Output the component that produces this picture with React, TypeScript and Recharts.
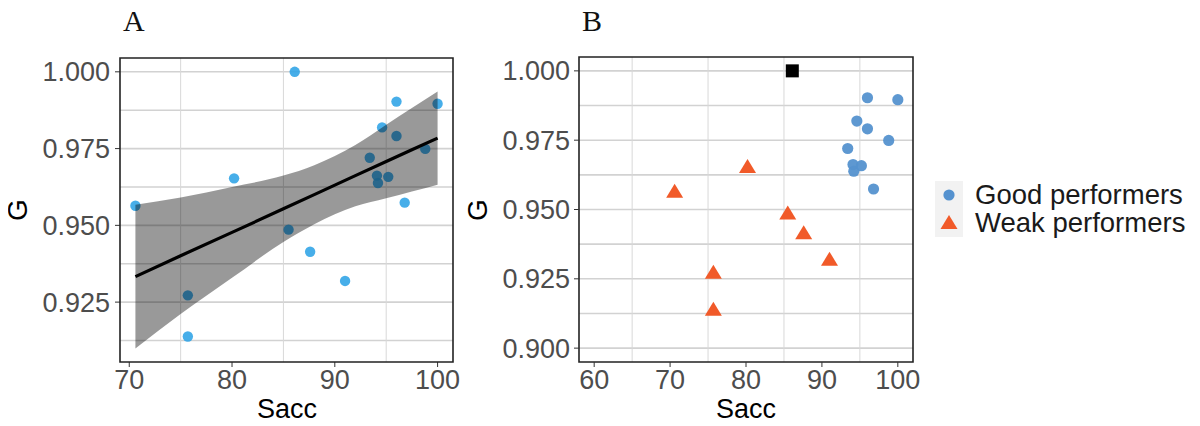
import {
  ComposedChart,
  ScatterChart,
  Scatter,
  Area,
  Line,
  XAxis,
  YAxis,
  CartesianGrid,
  ReferenceArea,
} from "recharts";

// good performers
const goodSacc = [93.4, 94.1, 94.2, 95.2, 94.6, 96.0, 96.0, 96.8, 98.8, 100.0];
const goodG = [0.972, 0.9662, 0.9638, 0.9658, 0.9819, 0.9903, 0.9791, 0.9574, 0.9749, 0.9896];

// weak performers
const weakSacc = [70.6, 75.7, 75.7, 80.2, 85.5, 87.6, 91.0];
const weakG = [0.9564, 0.9272, 0.9138, 0.9653, 0.9486, 0.9414, 0.9319];

// the one at the top
const topSacc = [86.1];
const topG = [1.0];

// fitted line and its band
const bandSacc = [70.6, 75, 80, 85, 88, 90, 92, 95, 97.5, 100];
const bandLow = [0.9099, 0.9211, 0.9329, 0.9446, 0.9504, 0.9536, 0.9562, 0.9588, 0.961, 0.9632];
const bandHigh = [0.9567, 0.9591, 0.9625, 0.9662, 0.9696, 0.9726, 0.9762, 0.9828, 0.9882, 0.9936];
const fitG = [0.9333, 0.9401, 0.9477, 0.9554, 0.96, 0.9631, 0.9662, 0.9708, 0.9746, 0.9784];

const xTicksA = [70, 80, 90, 100];
const yTicksA = [0.925, 0.95, 0.975, 1.0];
const hGridA = [0.9125, 0.925, 0.9375, 0.95, 0.9625, 0.975, 0.9875, 1.0];
const vGridA = [75, 85, 95];

const xTicksB = [60, 70, 80, 90, 100];
const yTicksB = [0.9, 0.925, 0.95, 0.975, 1.0];
const hGridB = [0.9, 0.9125, 0.925, 0.9375, 0.95, 0.9625, 0.975, 0.9875, 1.0];
const vGridB = [65, 75, 85, 95];

const toPts = (xs: number[], ys: number[]) => xs.map((x, i) => ({ x, y: ys[i] }));

const goodPts = toPts(goodSacc, goodG);
const weakPts = toPts(weakSacc, weakG);
const topPts = toPts(topSacc, topG);
const allPts = [...goodPts, ...weakPts, ...topPts];

const bandData = bandSacc.map((x, i) => ({
  x,
  band: [bandLow[i], bandHigh[i]],
  fit: fitG[i],
}));

const xDomA: [number, number] = [69.1, 101.5];
const yDomA: [number, number] = [0.9055, 1.0045];
const xDomB: [number, number] = [58, 102];
const yDomB: [number, number] = [0.895, 1.005];

const FONT = "'Liberation Sans', Arial, sans-serif";
const tickStyle = { fontSize: 27, fill: "#4d4d4d", fontFamily: FONT };

const dotA = (p: any) => (
  <circle cx={p.cx} cy={p.cy} r={5.2} fill="#2ea3e6" fillOpacity={0.88} />
);
const dotGood = (p: any) => (
  <circle cx={p.cx} cy={p.cy} r={5.6} fill="#5592cf" fillOpacity={0.95} />
);
const triWeak = (p: any) => (
  <polygon
    points={`${p.cx},${p.cy - 8} ${p.cx - 8.5},${p.cy + 6} ${p.cx + 8.5},${p.cy + 6}`}
    fill="#f15a29"
  />
);
const sqTop = (p: any) => (
  <rect x={p.cx - 6.5} y={p.cy - 6.5} width={13} height={13} fill="#000" />
);

const fmt = (v: number) => v.toFixed(3);

function Title({ text, left, top }: { text: string; left: number; top: number }) {
  return (
    <div
      style={{
        position: "absolute",
        left,
        top,
        fontFamily: "'Liberation Serif', 'Times New Roman', serif",
        fontSize: 30,
        lineHeight: 1,
        color: "#111",
      }}
    >
      {text}
    </div>
  );
}

function AxisTitles({ cx, cy, gx }: { cx: number; cy: number; gx: number }) {
  return (
    <>
      <div
        style={{
          position: "absolute",
          left: cx,
          top: 396,
          transform: "translateX(-50%)",
          fontFamily: FONT,
          fontSize: 27,
          lineHeight: 1,
          color: "#000",
        }}
      >
        Sacc
      </div>
      <div
        style={{
          position: "absolute",
          left: gx,
          top: cy,
          transform: "translate(-50%, -50%) rotate(-90deg)",
          fontFamily: FONT,
          fontSize: 28,
          lineHeight: 1,
          color: "#000",
        }}
      >
        G
      </div>
    </>
  );
}

export default function App() {
  return (
    <div
      style={{
        position: "relative",
        width: 1200,
        height: 426,
        margin: "-8px 0 0 -8px",
        background: "#fff",
        overflow: "hidden",
      }}
    >
      <Title text="A" left={123} top={6} />
      <Title text="B" left={582} top={6} />

      {/* panel A */}
      <div style={{ position: "absolute", left: 0, top: 0 }}>
        <ComposedChart
          width={470}
          height={426}
          data={bandData}
          margin={{ top: 58, right: 17, bottom: 0, left: 0 }}
        >
          <CartesianGrid
            vertical={false}
            horizontalValues={hGridA}
            stroke="#d2d2d2"
            strokeWidth={1.6}
          />
          <CartesianGrid
            horizontal={false}
            verticalValues={vGridA}
            stroke="#d8d8d8"
            strokeWidth={1}
          />
          <XAxis
            type="number"
            dataKey="x"
            domain={xDomA}
            allowDataOverflow
            ticks={xTicksA}
            interval={0}
            height={64}
            axisLine={false}
            tickSize={5}
            tickMargin={3}
            tickLine={{ stroke: "#333" }}
            tick={tickStyle}
          />
          <YAxis
            type="number"
            domain={yDomA}
            allowDataOverflow
            ticks={yTicksA}
            interval={0}
            width={120}
            axisLine={false}
            tickSize={5}
            tickMargin={5}
            tickLine={{ stroke: "#333" }}
            tick={tickStyle}
            tickFormatter={fmt}
          />
          <Scatter
            data={allPts}
            dataKey="y"
            shape={dotA}
            isAnimationActive={false}
            zIndex={100}
          />
          <Area
            type="monotone"
            dataKey="band"
            stroke="none"
            fill="#000"
            fillOpacity={0.4}
            isAnimationActive={false}
            zIndex={200}
          />
          <Line
            type="linear"
            dataKey="fit"
            stroke="#000"
            strokeWidth={3.2}
            dot={false}
            isAnimationActive={false}
            zIndex={300}
          />
          <ReferenceArea
            x1={xDomA[0]}
            x2={xDomA[1]}
            y1={yDomA[0]}
            y2={yDomA[1]}
            fill="none"
            stroke="#222"
            strokeWidth={1.6}
            zIndex={1000}
          />
        </ComposedChart>
      </div>
      <AxisTitles cx={287} cy={210} gx={18} />

      {/* panel B */}
      <div style={{ position: "absolute", left: 460, top: 0 }}>
        <ScatterChart
          width={470}
          height={426}
          margin={{ top: 57, right: 17, bottom: 0, left: 0 }}
        >
          <CartesianGrid
            vertical={false}
            horizontalValues={hGridB}
            stroke="#d2d2d2"
            strokeWidth={1.6}
          />
          <CartesianGrid
            horizontal={false}
            verticalValues={vGridB}
            stroke="#d8d8d8"
            strokeWidth={1}
          />
          <XAxis
            type="number"
            dataKey="x"
            domain={xDomB}
            allowDataOverflow
            ticks={xTicksB}
            interval={0}
            height={64}
            axisLine={false}
            tickSize={5}
            tickMargin={3}
            tickLine={{ stroke: "#333" }}
            tick={tickStyle}
          />
          <YAxis
            type="number"
            dataKey="y"
            domain={yDomB}
            allowDataOverflow
            ticks={yTicksB}
            interval={0}
            width={119}
            axisLine={false}
            tickSize={5}
            tickMargin={4}
            tickLine={{ stroke: "#333" }}
            tick={tickStyle}
            tickFormatter={fmt}
          />
          <Scatter data={goodPts} shape={dotGood} isAnimationActive={false} />
          <Scatter data={weakPts} shape={triWeak} isAnimationActive={false} />
          <Scatter data={topPts} shape={sqTop} isAnimationActive={false} />
          <ReferenceArea
            x1={xDomB[0]}
            x2={xDomB[1]}
            y1={yDomB[0]}
            y2={yDomB[1]}
            fill="none"
            stroke="#222"
            strokeWidth={1.6}
          />
        </ScatterChart>
      </div>
      <AxisTitles cx={746} cy={210} gx={478} />

      {/* legend */}
      <div style={{ position: "absolute", left: 935, top: 181 }}>
        {[
          { label: "Good performers", kind: "dot" },
          { label: "Weak performers", kind: "tri" },
        ].map((item) => (
          <div
            key={item.label}
            style={{ display: "flex", alignItems: "center", height: 28 }}
          >
            <svg width={28} height={28} style={{ background: "#f2f2f2" }}>
              {item.kind === "dot" ? (
                <circle cx={14} cy={14} r={5.6} fill="#5592cf" />
              ) : (
                <polygon points="14,6 5.5,20 22.5,20" fill="#f15a29" />
              )}
            </svg>
            <span
              style={{
                marginLeft: 12,
                fontFamily: FONT,
                fontSize: 27.5,
                lineHeight: 1,
                color: "#1a1a1a",
                whiteSpace: "nowrap",
              }}
            >
              {item.label}
            </span>
          </div>
        ))}
      </div>
    </div>
  );
}
